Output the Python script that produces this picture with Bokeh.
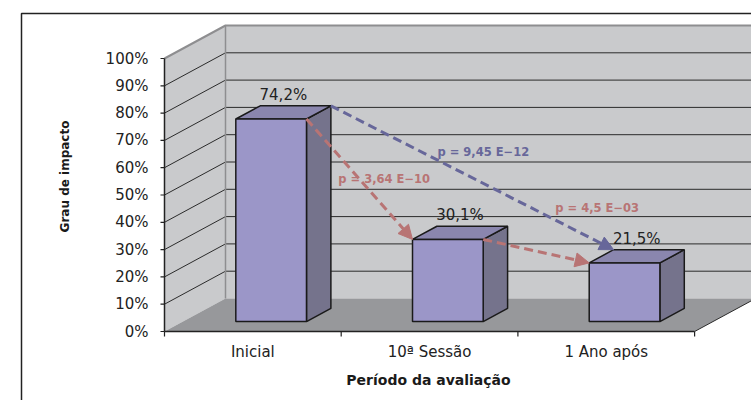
from math import pi
from bokeh.plotting import figure
from bokeh.models import Range1d, Arrow, NormalHead
from bokeh.embed import file_html
from bokeh.resources import INLINE
from bokeh.core.properties import value

# ---------------- data ----------------
categories = ["Inicial", "10ª Sessão", "1 Ano após"]
impact = [74.2, 30.1, 21.5]
value_labels = ["74,2%", "30,1%", "21,5%"]
y_ticks = [0, 10, 20, 30, 40, 50, 60, 70, 80, 90, 100]
y_tick_labels = ["0%", "10%", "20%", "30%", "40%", "50%", "60%", "70%", "80%", "90%", "100%"]
comparisons = [(0, 1), (1, 2), (0, 2)]
p_labels = ["p = 3,64 E\u221210", "p = 4,5 E\u221203", "p = 9,45 E\u221212"]
y_title = "Grau de impacto"
x_title = "Período da avaliação"

# ---------------- layout / style ----------------
W, H = 751, 400
PX_X = 176.7          # pixels per category
PX_Y = 2.73           # pixels per percent
X0 = 164              # pixel x of category origin
Y0 = 331              # pixel y (from top) of 0 %
DX = 61 / PX_X        # depth offset (x, data units)
DY = 33 / PX_Y        # depth offset (y, data units)
D1, D2 = 0.3, 0.7     # bar depth position
BW = 0.4              # bar width (category units)
NCAT = len(categories)

FONT = value("DejaVu Sans")
WALL = "#C9CACC"
FLOOR = "#97989B"
EDGE = "#8E8E90"
GRID = "#2B2B2B"
FRONT = "#9B96C8"
SIDE = "#75738C"
TOP = "#8A86AE"
RED = "#B87474"
BLUE = "#67679A"
arrow_colors = [RED, RED, BLUE]
arrow_depth = [D1, D1, D2]
label_t = [0.30, 0.68, 0.377]
label_dy_px = [-24, 47, 8]


def rx(xp):  # pixel -> data x
    return (xp - X0) / PX_X


def ry(yp):  # pixel -> data y
    return (Y0 - yp) / PX_Y


p = figure(width=W, height=H,
           x_range=Range1d(-X0 / PX_X, (W - X0) / PX_X),
           y_range=Range1d(-(H - Y0) / PX_Y, Y0 / PX_Y),
           output_backend="svg", toolbar_location=None,
           x_axis_type=None, y_axis_type=None,
           min_border=0, min_border_left=0, min_border_right=0,
           min_border_top=0, min_border_bottom=0)
p.grid.visible = False
p.outline_line_color = None
p.background_fill_color = "white"
p.border_fill_color = "white"

# outer frame
p.line([rx(21), rx(21), rx(900)], [ry(600), ry(13), ry(13)], line_color="#222222", line_width=1.5)

# walls and floor
p.patch([0, 0, DX, DX], [0, 100, 100 + DY, DY], fill_color=WALL, line_color=None)
p.patch([DX, DX, NCAT + DX, NCAT + DX], [DY, 100 + DY, 100 + DY, DY], fill_color=WALL, line_color=None)
p.patch([0, NCAT, NCAT + DX, DX], [0, 0, DY, DY], fill_color=FLOOR, line_color=None)

# gridlines
gx, gy = [], []
for t in y_ticks[1:-1]:
    gx.append([0, DX, NCAT + DX])
    gy.append([t, t + DY, t + DY])
p.multi_line(gx, gy, line_color=GRID, line_width=1)
top = y_ticks[-1]
p.line([0, DX, NCAT + DX], [top, top + DY, top + DY], line_color=EDGE, line_width=2)
p.line([DX, DX], [DY, top + DY], line_color=EDGE, line_width=1.5)
p.line([NCAT, NCAT + DX], [0, DY], line_color=GRID, line_width=1)

# axes
p.line([0, 0], [0, top], line_color="#222222", line_width=1.5)
p.line([0, NCAT], [0, 0], line_color="#222222", line_width=1.5)
p.segment(x0=[-4 / PX_X] * len(y_ticks), y0=y_ticks, x1=[0] * len(y_ticks), y1=y_ticks,
          line_color="#222222", line_width=1.2)
xt = list(range(NCAT + 1))
p.segment(x0=xt, y0=[0] * len(xt), x1=xt, y1=[-5 / PX_Y] * len(xt), line_color="#222222", line_width=1.2)
p.text(x=[-16 / PX_X] * len(y_ticks), y=y_ticks, text=y_tick_labels, text_align="right",
       text_baseline="middle", text_font=FONT, text_font_size="15px", text_color="#222222")
centers = [i + 0.5 for i in range(NCAT)]
p.text(x=centers, y=[-20 / PX_Y] * NCAT, text=categories, text_align="center",
       text_baseline="middle", text_font=FONT, text_font_size="15px", text_color="#222222")
p.text(x=[rx(428)], y=[ry(379)], text=[x_title], text_align="center", text_baseline="middle",
       text_font=FONT, text_font_size="14px", text_font_style="bold", text_color="#1A1A1A")
p.text(x=[rx(64)], y=[ry(176)], text=[y_title], angle=pi / 2, text_align="center", text_baseline="middle",
       text_font=FONT, text_font_size="12px", text_font_style="bold", text_color="#1A1A1A")

# bars
fx, fy, sx, sy, tx, ty = [], [], [], [], [], []
for c, v in zip(centers, impact):
    l, r = c - BW / 2, c + BW / 2
    fx.append([l + D1 * DX, r + D1 * DX, r + D1 * DX, l + D1 * DX])
    fy.append([D1 * DY, D1 * DY, v + D1 * DY, v + D1 * DY])
    sx.append([r + D1 * DX, r + D2 * DX, r + D2 * DX, r + D1 * DX])
    sy.append([D1 * DY, D2 * DY, v + D2 * DY, v + D1 * DY])
    tx.append([l + D1 * DX, r + D1 * DX, r + D2 * DX, l + D2 * DX])
    ty.append([v + D1 * DY, v + D1 * DY, v + D2 * DY, v + D2 * DY])
p.patches(sx, sy, fill_color=SIDE, line_color="#1A1A1A", line_width=1.5)
p.patches(tx, ty, fill_color=TOP, line_color="#1A1A1A", line_width=1.5)
p.patches(fx, fy, fill_color=FRONT, line_color="#1A1A1A", line_width=1.5)

# value labels
p.text(x=[c + 0.5 * DX for c in centers], y=[v + D2 * DY + 11 / PX_Y for v in impact],
       text=value_labels, text_align="center", text_baseline="middle",
       text_font=FONT, text_font_size="15px", text_color="#222222")

# significance arrows
for (a, b), col, d, lab, t, dyp in zip(comparisons, arrow_colors, arrow_depth, p_labels, label_t, label_dy_px):
    xs = centers[a] + BW / 2 + d * DX
    ys = impact[a] + d * DY
    xe = centers[b] - BW / 2 + d * DX
    ye = impact[b] + d * DY
    p.add_layout(Arrow(end=NormalHead(size=14, fill_color=col, line_color=col),
                       x_start=xs, y_start=ys, x_end=xe, y_end=ye,
                       line_color=col, line_width=3, line_dash="9 5"))
    lx = xs + t * (xe - xs)
    ly = ys + t * (ye - ys) + dyp / PX_Y
    p.text(x=[lx], y=[ly], text=[lab], text_align="left", text_baseline="middle",
           text_font=FONT, text_font_size="11.5px", text_font_style="bold", text_color=col)

open("out.html", "w").write(file_html(p, INLINE))
